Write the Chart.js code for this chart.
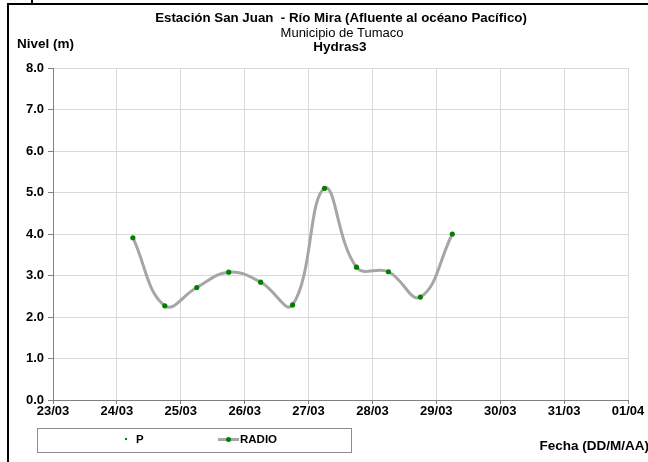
<!DOCTYPE html>
<html>
<head>
<meta charset="utf-8">
<script src="https://cdn.jsdelivr.net/npm/chart.js@4/dist/chart.umd.min.js"></script>
<style>
  body { margin: 0; background: #fff; font-family: "Liberation Sans", Arial, sans-serif; }
  #pagina { position: relative; width: 648px; height: 462px; overflow: hidden; background: #fff; }
  #myChart { position: absolute; left: 0; top: 0; }
  .txt { position: absolute; color: #000; white-space: nowrap; font-size: 13px; }
  .bold { font-weight: bold; }
  .marco { position: absolute; background: #000; }
  #leyenda { position: absolute; left: 37px; top: 428px; width: 313px; height: 23px; border: 1px solid #8c8c8c; background: #fff; }
  .item { position: absolute; top: 4px; font-size: 11.5px; font-weight: bold; }
</style>
</head>
<body>
<div id="pagina">
  <div class="marco" style="left:8px;top:3px;width:640px;height:2px"></div>
  <div class="marco" style="left:7px;top:3px;width:2px;height:459px"></div>
  <div class="marco" style="left:31px;top:0px;width:2px;height:4px"></div>
  <canvas id="myChart" width="648" height="462"></canvas>
  <div class="txt bold" style="left:0;width:682px;text-align:center;top:10px;font-size:13.3px">Estación San Juan&nbsp; - Río Mira (Afluente al océano Pacífico)</div>
  <div class="txt" style="left:0;width:684px;text-align:center;top:25px">Municipio de Tumaco</div>
  <div class="txt bold" style="left:0;width:680px;text-align:center;top:39px;font-size:13.5px">Hydras3</div>
  <div class="txt bold" style="left:17px;top:36px;font-size:13.5px">Nivel (m)</div>
  <div class="txt bold" style="right:-1px;top:438px;font-size:13.5px">Fecha (DD/M/AA)</div>
  <div id="leyenda"></div>
</div>
<script>
// etiquetas del eje X (dias)
var etiquetasFecha = ['23/03', '24/03', '25/03', '26/03', '27/03', '28/03', '29/03', '30/03', '31/03', '01/04'];
// lecturas cada 12 h, en dias desde 23/03 00:00
var diaLectura = [1.25, 1.75, 2.25, 2.75, 3.25, 3.75, 4.25, 4.75, 5.25, 5.75, 6.25];
// nivel (m) serie RADIO
var nivelRadio = [3.91, 2.27, 2.71, 3.08, 2.84, 2.29, 5.10, 3.20, 3.09, 2.48, 4.00];
// serie P sin datos en el periodo
var nivelP = [];
var nivelTicks = [0, 1, 2, 3, 4, 5, 6, 7, 8];

var puntosRadio = [];
for (i = 0; i < nivelRadio.length; i++) {
  puntosRadio.push({ x: diaLectura[i], y: nivelRadio[i] });
}

var ctx = document.getElementById('myChart').getContext('2d');
var fuenteTick = { family: 'Liberation Sans', size: 13, weight: 'bold' };

var myChart = new Chart(ctx, {
  type: 'line',
  data: {
    datasets: [{
      label: 'P',
      data: nivelP,
      showLine: false,
      pointRadius: 1.2,
      pointBackgroundColor: '#008000',
      pointBorderWidth: 0
    }, {
      label: 'RADIO',
      data: puntosRadio,
      borderColor: '#a6a6a6',
      borderWidth: 3,
      tension: 0.42,
      fill: false,
      pointRadius: 2.6,
      pointBackgroundColor: '#008000',
      pointBorderWidth: 0
    }]
  },
  options: {
    responsive: false,
    animation: false,
    layout: { padding: { top: 68, right: 20, bottom: 0, left: 0 } },
    plugins: {
      legend: { display: false },
      tooltip: { enabled: false }
    },
    scales: {
      x: {
        type: 'linear',
        min: 0,
        max: etiquetasFecha.length - 1,
        afterFit: function (s) { s.height = 62; },
        afterBuildTicks: function (s) {
          s.ticks = etiquetasFecha.map(function (e, i) { return { value: i }; });
        },
        ticks: {
          color: '#000',
          font: fuenteTick,
          padding: 0,
          maxRotation: 0,
          autoSkip: false,
          callback: function (v) { return etiquetasFecha[v]; }
        },
        grid: { color: '#d9d9d9', tickLength: 4, tickColor: '#808080' },
        border: { color: '#808080', width: 1 }
      },
      y: {
        min: 0,
        max: 8,
        afterFit: function (s) { s.width = 53; },
        afterBuildTicks: function (s) {
          s.ticks = nivelTicks.map(function (v) { return { value: v }; });
        },
        ticks: {
          color: '#000',
          font: fuenteTick,
          padding: 4,
          callback: function (v) { return v.toFixed(1); }
        },
        grid: { color: '#d9d9d9', tickLength: 5, tickColor: '#808080' },
        border: { color: '#808080', width: 1 }
      }
    }
  }
});

// leyenda con recuadro, como en el original
var leyenda = document.getElementById('leyenda');
var posLeyenda = [79, 180];
myChart.data.datasets.forEach(function (ds, i) {
  var item = document.createElement('div');
  item.className = 'item';
  item.style.left = posLeyenda[i] + 'px';
  var marca = '';
  if (ds.showLine === false) {
    marca = '<span style="display:inline-block;width:2px;height:2px;background:#008000;margin:0 9px 2px 8px;vertical-align:middle"></span>';
  } else {
    marca = '<span style="display:inline-block;position:relative;width:21px;height:3px;background:#a6a6a6;margin-right:1px;vertical-align:middle">' +
      '<span style="position:absolute;left:8px;top:-1px;width:5px;height:5px;border-radius:50%;background:#008000"></span></span>';
  }
  item.innerHTML = marca + ds.label;
  leyenda.appendChild(item);
});
</script>
</body>
</html>
